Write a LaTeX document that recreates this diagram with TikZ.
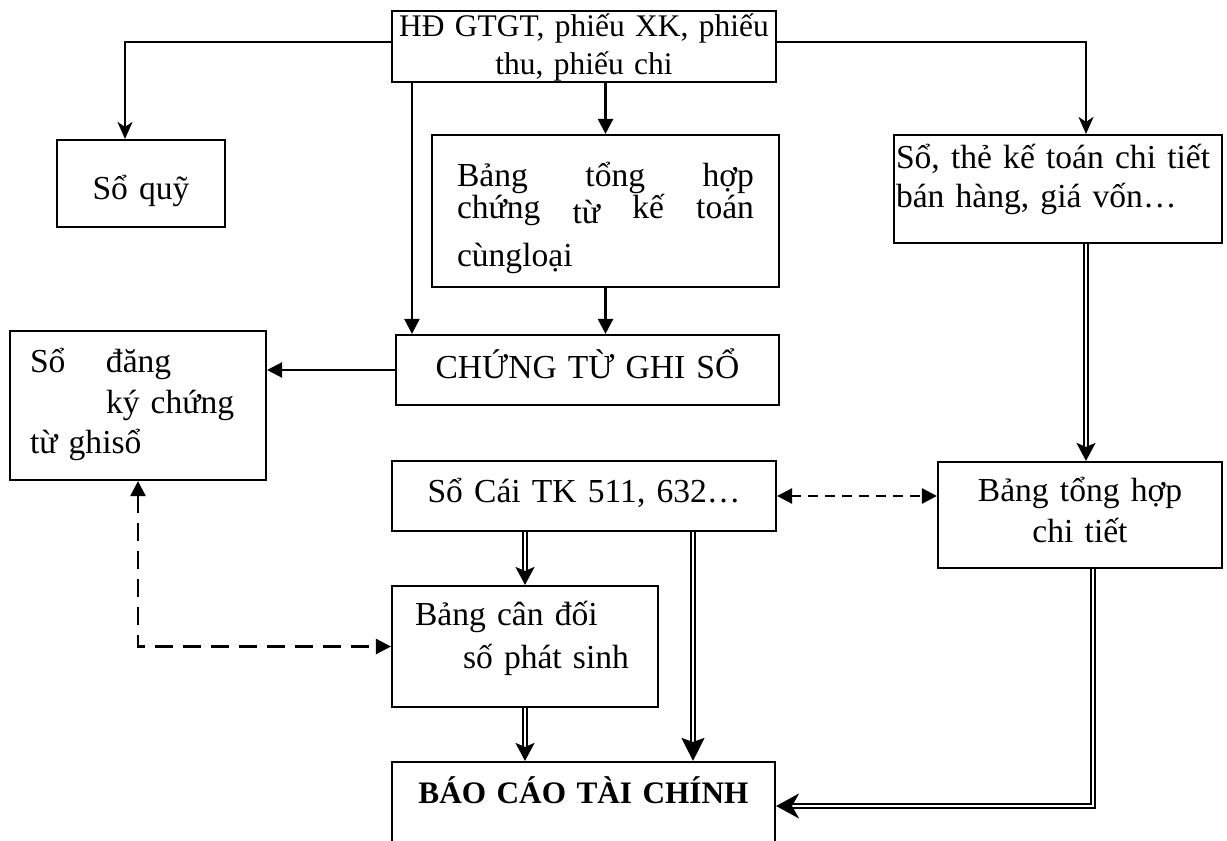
\documentclass[tikz,border=0pt]{standalone}
\usepackage{fontspec}
\setmainfont{Liberation Serif}
\usetikzlibrary{arrows.meta,calc}

\begin{document}
\begin{tikzpicture}[>=Stealth,
  hop/.style={draw,line width=1.2pt,inner ysep=0pt,inner xsep=0pt,
    font=\fontsize{19.1}{22.8}\selectfont},
  muiten/.style={line width=1.3pt,-{Stealth[length=0.34cm,width=0.3cm,inset=0.1cm]}},
  tamgiac/.style={line width=1.3pt,-{Triangle[length=0.3cm,width=0.3cm]}},
  netdut/.style={line width=1.4pt,
    {Triangle[length=0.3cm,width=0.3cm]}-{Triangle[length=0.3cm,width=0.3cm]}},
  kep/.style={line width=1.1pt,double,double distance=1.3pt,
    -{Stealth[length=0.36cm,width=0.38cm,inset=0.08cm]}}]
  \useasboundingbox (0,0) rectangle (24.54,16.8);
  % cac o
  \node[hop,text width=7.68cm,align=center,text height=0.52cm,text depth=0.9cm,
    font=\fontsize{17.9}{21.6}\selectfont] (hd) at (11.68,15.87)
    {HĐ GTGT, phiếu XK, phiếu\\thu, phiếu chi};
  \node[hop,text width=3.36cm,align=center,text height=1.2cm,text depth=0.54cm]
    (quy) at (2.82,13.13) {Sổ quỹ};
  \node[hop,inner xsep=0.5cm,text width=5.94cm,align=left,
    text height=1.04cm,text depth=2cm] (bthop) at (12.11,12.58)
    {Bảng \hfill tổng \hfill hợp\\[-0.18cm]
     chứng \hfill \raisebox{-0.1cm}{từ} \hfill kế \hfill toán\\[0.16cm]
     cùngloại};
  \node[hop,inner xsep=0.04cm,text width=6.48cm,align=left,
    text height=0.68cm,text depth=1.48cm] (sothe) at (21.16,13.02)
    {Sổ, thẻ kế toán chi tiết\\[-0.04cm]bán hàng, giá vốn…};
  \node[hop,text width=7.66cm,align=center,text height=0.88cm,text depth=0.52cm]
    (ctgs) at (11.75,9.4) {CHỨNG TỪ GHI SỔ};
  \node[hop,inner xsep=0.4cm,text width=4.32cm,align=left,
    text height=0.84cm,text depth=2.14cm] (dangky) at (2.76,8.69)
    {\makebox[1.52cm][l]{Sổ}đăng\\\hspace*{1.52cm}ký chứng\\từ ghisổ};
  \node[hop,text width=7.68cm,align=center,text height=0.84cm,text depth=0.56cm]
    (socai) at (11.68,6.88) {Sổ Cái TK 511, 632…};
  \node[hop,text width=5.68cm,align=center,text height=0.8cm,text depth=1.32cm]
    (chitiet) at (21.6,6.5) {Bảng tổng hợp\\chi tiết};
  \node[hop,inner xsep=0.46cm,text width=4.4cm,align=left,
    text height=0.8cm,text depth=1.62cm] (candoi) at (10.5,3.87)
    {Bảng cân đối\\[0.04cm]\hspace*{0.96cm}số phát sinh};
  \node[hop,text width=7.66cm,align=center,text height=0.82cm,text depth=0.94cm,
    font=\fontsize{17.8}{22.8}\selectfont\bfseries] (bctc) at (11.67,0.68)
    {BÁO CÁO TÀI CHÍNH};
  % mui ten don
  \draw[muiten] ([yshift=0.09cm]hd.west) -| ([xshift=-0.32cm]quy.north);
  \draw[muiten] ([yshift=0.09cm]hd.east) -| ([xshift=0.56cm]sothe.north);
  \draw[tamgiac] ([xshift=0.42cm]hd.south west)
    -- ([xshift=0.42cm]hd.south west |- ctgs.north);
  \draw[tamgiac] (hd.south -| bthop.north) -- (bthop.north);
  \draw[tamgiac] (bthop.south) -- (bthop.south |- ctgs.north);
  \draw[tamgiac] (ctgs.west) -- (ctgs.west -| dangky.east);
  % doi chieu
  \draw[netdut,dash pattern=on 0.36cm off 0.2cm] (dangky.south) |- (candoi.west);
  \draw[netdut,dash pattern=on 0.2cm off 0.14cm]
    (socai.east) -- (socai.east -| chitiet.west);
  % mui ten kep
  \draw[kep] ([xshift=0.56cm]sothe.south)
    -- ([xshift=0.56cm]sothe.south |- chitiet.north);
  \draw[kep] (socai.south -| candoi.north) -- (candoi.north);
  \draw[kep,-{Stealth[length=0.46cm,width=0.46cm,inset=0.08cm]}]
    ([xshift=2.18cm]socai.south) -- ([xshift=2.18cm]socai.south |- bctc.north);
  \draw[kep] (candoi.south) -- (candoi.south |- bctc.north);
  \draw[kep,-{Stealth[length=0.46cm,width=0.5cm,inset=0.14cm]}]
    ([xshift=0.26cm]chitiet.south) |- (bctc.east);
\end{tikzpicture}
\end{document}
